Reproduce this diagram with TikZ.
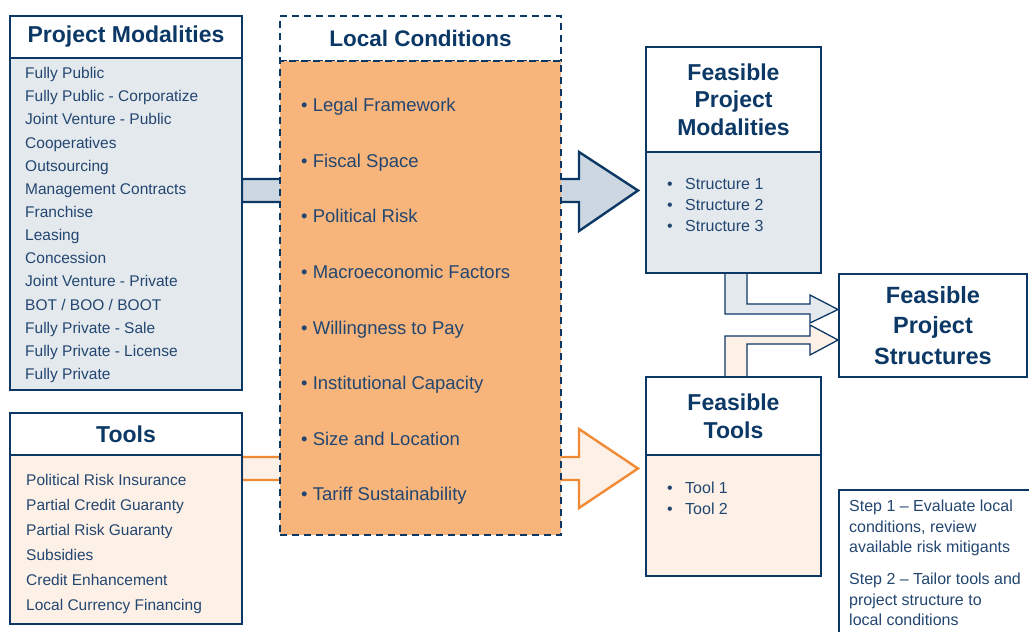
\documentclass[tikz,border=0pt]{standalone}
\usepackage{fontspec}
\setmainfont{Liberation Sans}
\usetikzlibrary{positioning,backgrounds}
\definecolor{navy}{RGB}{12,56,102}
\definecolor{itemblue}{RGB}{35,70,112}
\definecolor{greyblue}{RGB}{228,233,238}
\definecolor{arrowblue}{RGB}{205,215,225}
\definecolor{lcorange}{RGB}{247,181,123}
\definecolor{peach}{RGB}{253,240,230}
\definecolor{darkorange}{RGB}{241,138,53}
\tikzset{
  headbox/.style={draw=navy, line width=2.4pt, fill=white, text=navy, inner sep=0pt, outer sep=0pt,
    align=center, font=\fontsize{23}{27.5}\selectfont\bfseries},
  listbox/.style={draw=navy, line width=2.4pt, inner sep=0pt, outer sep=0pt},
  dashbox/.style={draw=navy, line width=2.9pt, dash pattern=on 7pt off 5pt, inner sep=0pt, outer sep=0pt},
  item/.style={text=itemblue, inner sep=0pt, anchor=base west, font=\fontsize{15.5}{18}\selectfont},
  lcitem/.style={text=itemblue, inner sep=0pt, anchor=base west, font=\fontsize{18.5}{22}\selectfont},
  bulitem/.style={text=itemblue, inner sep=0pt, anchor=base west, font=\fontsize{16}{20}\selectfont},
  bigblue/.style={draw=navy, fill=arrowblue, line width=2.4pt, line join=miter},
  bigorange/.style={draw=darkorange, fill=peach, line width=2.4pt, line join=miter},
  elbow/.style={draw=navy, line width=1.3pt, line join=miter}
}
\begin{document}
\begin{tikzpicture}[x=1pt,y=-1pt]
\useasboundingbox (0,0) rectangle (1029,632);
\clip (0,0) rectangle (1029,632);
% project modalities
\node[headbox, minimum width=232, minimum height=42] (pmhead) at (126,37) {Project Modalities};
\node[listbox, fill=greyblue, minimum width=232, minimum height=332, below=0pt of pmhead] (pmbody) {};
\foreach \txt [count=\i] in {Fully Public, Fully Public - Corporatize, Joint Venture - Public, Cooperatives,
  Outsourcing, Management Contracts, Franchise, Leasing, Concession, Joint Venture - Private,
  BOT / BOO / BOOT, Fully Private - Sale, Fully Private - License, Fully Private}
  \node[item] (pm\i) at (25,78.6+23.15*\i-23.15) {\txt};
% tools
\node[headbox, minimum width=232, minimum height=42] (tlhead) at (126,434) {Tools};
\node[listbox, fill=peach, minimum width=232, minimum height=169, below=0pt of tlhead] (tlbody) {};
\foreach \txt [count=\i] in {Political Risk Insurance, Partial Credit Guaranty, Partial Risk Guaranty,
  Subsidies, Credit Enhancement, Local Currency Financing}
  \node[item] (tl\i) at (26,485.6+25*\i-25) {\txt};
% local conditions
\node[dashbox, text=navy, font=\fontsize{22.5}{27}\selectfont\bfseries, minimum width=281, minimum height=45] (lchead) at (420.5,38.5) {Local Conditions};
\node[dashbox, fill=lcorange, minimum width=281, minimum height=474, below=0pt of lchead] (lcbody) {};
\foreach \txt [count=\i] in {Legal Framework, Fiscal Space, Political Risk, Macroeconomic Factors,
  Willingness to Pay, Institutional Capacity, Size and Location, Tariff Sustainability}
  \node[lcitem] (lc\i) at (301,111.6+55.6*\i-55.6) {\textbullet\ \txt};
% feasible boxes
\node[headbox, minimum width=175, minimum height=105] (fpmhead) at (733.5,99.5) {Feasible\\Project\\Modalities};
\node[listbox, fill=greyblue, minimum width=175, minimum height=121, below=0pt of fpmhead] (fpmbody) {};
\foreach \txt [count=\i] in {Structure 1, Structure 2, Structure 3}
  \node[bulitem] (fpm\i) at (667,189.8+21*\i-21) {\makebox[18pt][l]{\textbullet}\txt};
\node[headbox, minimum width=175, minimum height=78, font=\fontsize{23}{28}\selectfont\bfseries] (fthead) at (733.5,416) {Feasible\\Tools};
\node[listbox, fill=peach, minimum width=175, minimum height=121, below=0pt of fthead] (ftbody) {};
\foreach \txt [count=\i] in {Tool 1, Tool 2}
  \node[bulitem] (ft\i) at (667,493.8+21*\i-21) {\makebox[18pt][l]{\textbullet}\txt};
\node[headbox, minimum width=188, minimum height=103, font=\fontsize{23.5}{30.5}\selectfont\bfseries] (fps) at (933,325.5) {Feasible\\Project\\Structures};
% steps
\node[listbox, minimum width=220, minimum height=170, anchor=north west] (stepbox) at (839,490) {};
\node[text=itemblue, inner sep=0pt, anchor=north west, align=left, font=\fontsize{16}{20.5}\selectfont] (steps) at (849,500)
  {Step 1 -- Evaluate local\\conditions, review\\available risk mitigants\\[11.5pt]Step 2 -- Tailor tools and\\project structure to\\local conditions};
% arrows
\coordinate (modtip) at (638,190.5);
\coordinate (tooltip) at (638,468.5);
\coordinate (strtip1) at (838,309.5);
\coordinate (strtip2) at (838,340);
\begin{scope}[on background layer]
\draw[bigblue] (pmbody.east |- 0,179) -- (579,179) -- (579,152) -- (modtip) -- (579,231) -- (579,202) -- (pmbody.east |- 0,202) -- cycle;
\draw[bigorange] (tlbody.east |- 0,457) -- (579,457) -- (579,429) -- (tooltip) -- (579,508) -- (579,480) -- (tlbody.east |- 0,480) -- cycle;
\draw[elbow, fill=greyblue] (725,273) -- (725,314) -- (810,314) -- (810,323) -- (strtip1) -- (810,295) -- (810,304) -- (747,304) -- (747,273);
\draw[elbow, fill=peach] (725,377) -- (725,336) -- (810,336) -- (810,325) -- (strtip2) -- (810,355) -- (810,344) -- (747,344) -- (747,377);
\end{scope}
\end{tikzpicture}
\end{document}
